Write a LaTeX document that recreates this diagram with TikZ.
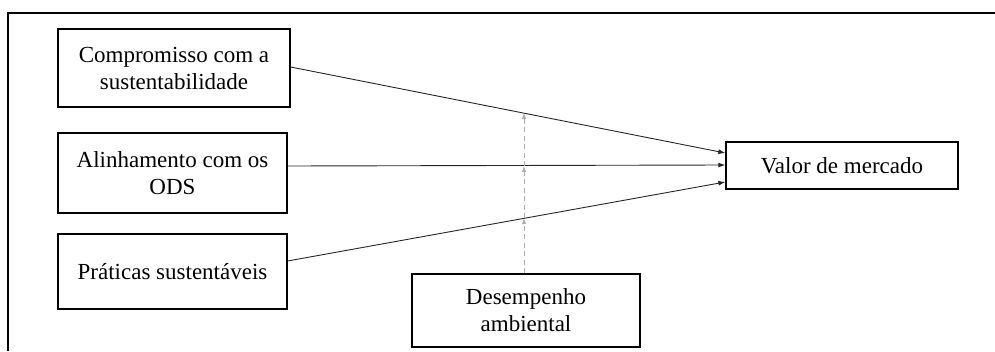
\documentclass[tikz,border=0pt]{standalone}
\usepackage{fontspec}
\setmainfont{Liberation Serif}
\usetikzlibrary{arrows.meta}
\begin{document}
\begin{tikzpicture}[x=1pt,y=-1pt,
  box/.style={draw=black,line width=1.3pt,rectangle,align=center,inner sep=0pt,
    font=\fontsize{23}{27}\selectfont},
  link/.style={draw=black!85,line width=0.9pt,-{Latex[length=7pt,width=5pt]}},
  modlink/.style={draw=black!32,line width=0.9pt,dash pattern=on 5pt off 3.5pt,
    -{Latex[length=6pt,width=4.5pt]}}]
\useasboundingbox (0,0) rectangle (995,351);
\draw[line width=1.5pt] (8,351) -- (8,13) -- (995,13);
\node[box,minimum width=232pt,minimum height=78pt] (b1) at (174,68) {Compromisso com a\\sustentabilidade};
\node[box,minimum width=229pt,minimum height=80pt] (b2) at (172.5,173) {Alinhamento com os\\ODS};
\node[box,minimum width=229pt,minimum height=75pt] (b3) at (172.5,271.5) {Práticas sustentáveis};
\node[box,minimum width=232pt,minimum height=47pt] (b4) at (842,165.5) {Valor de mercado};
\node[box,minimum width=228pt,minimum height=73pt] (b5) at (526,310.5) {Desempenho\\ambiental};
\coordinate (c1) at (524,113);
\coordinate (c2) at (524,166);
\coordinate (c3) at (524,218);
\draw[link] ([yshift=1pt]b1.east) -- ([yshift=12.5pt]b4.west);
\draw[link] ([yshift=7pt]b2.east) -- ([yshift=0.5pt]b4.west);
\draw[link] ([yshift=10.5pt]b3.east) -- ([yshift=-16.5pt]b4.west);
\draw[modlink] (b5.north -| c3) -- (c3);
\draw[modlink] (c3) -- (c2);
\draw[modlink] (c2) -- (c1);
\end{tikzpicture}
\end{document}
